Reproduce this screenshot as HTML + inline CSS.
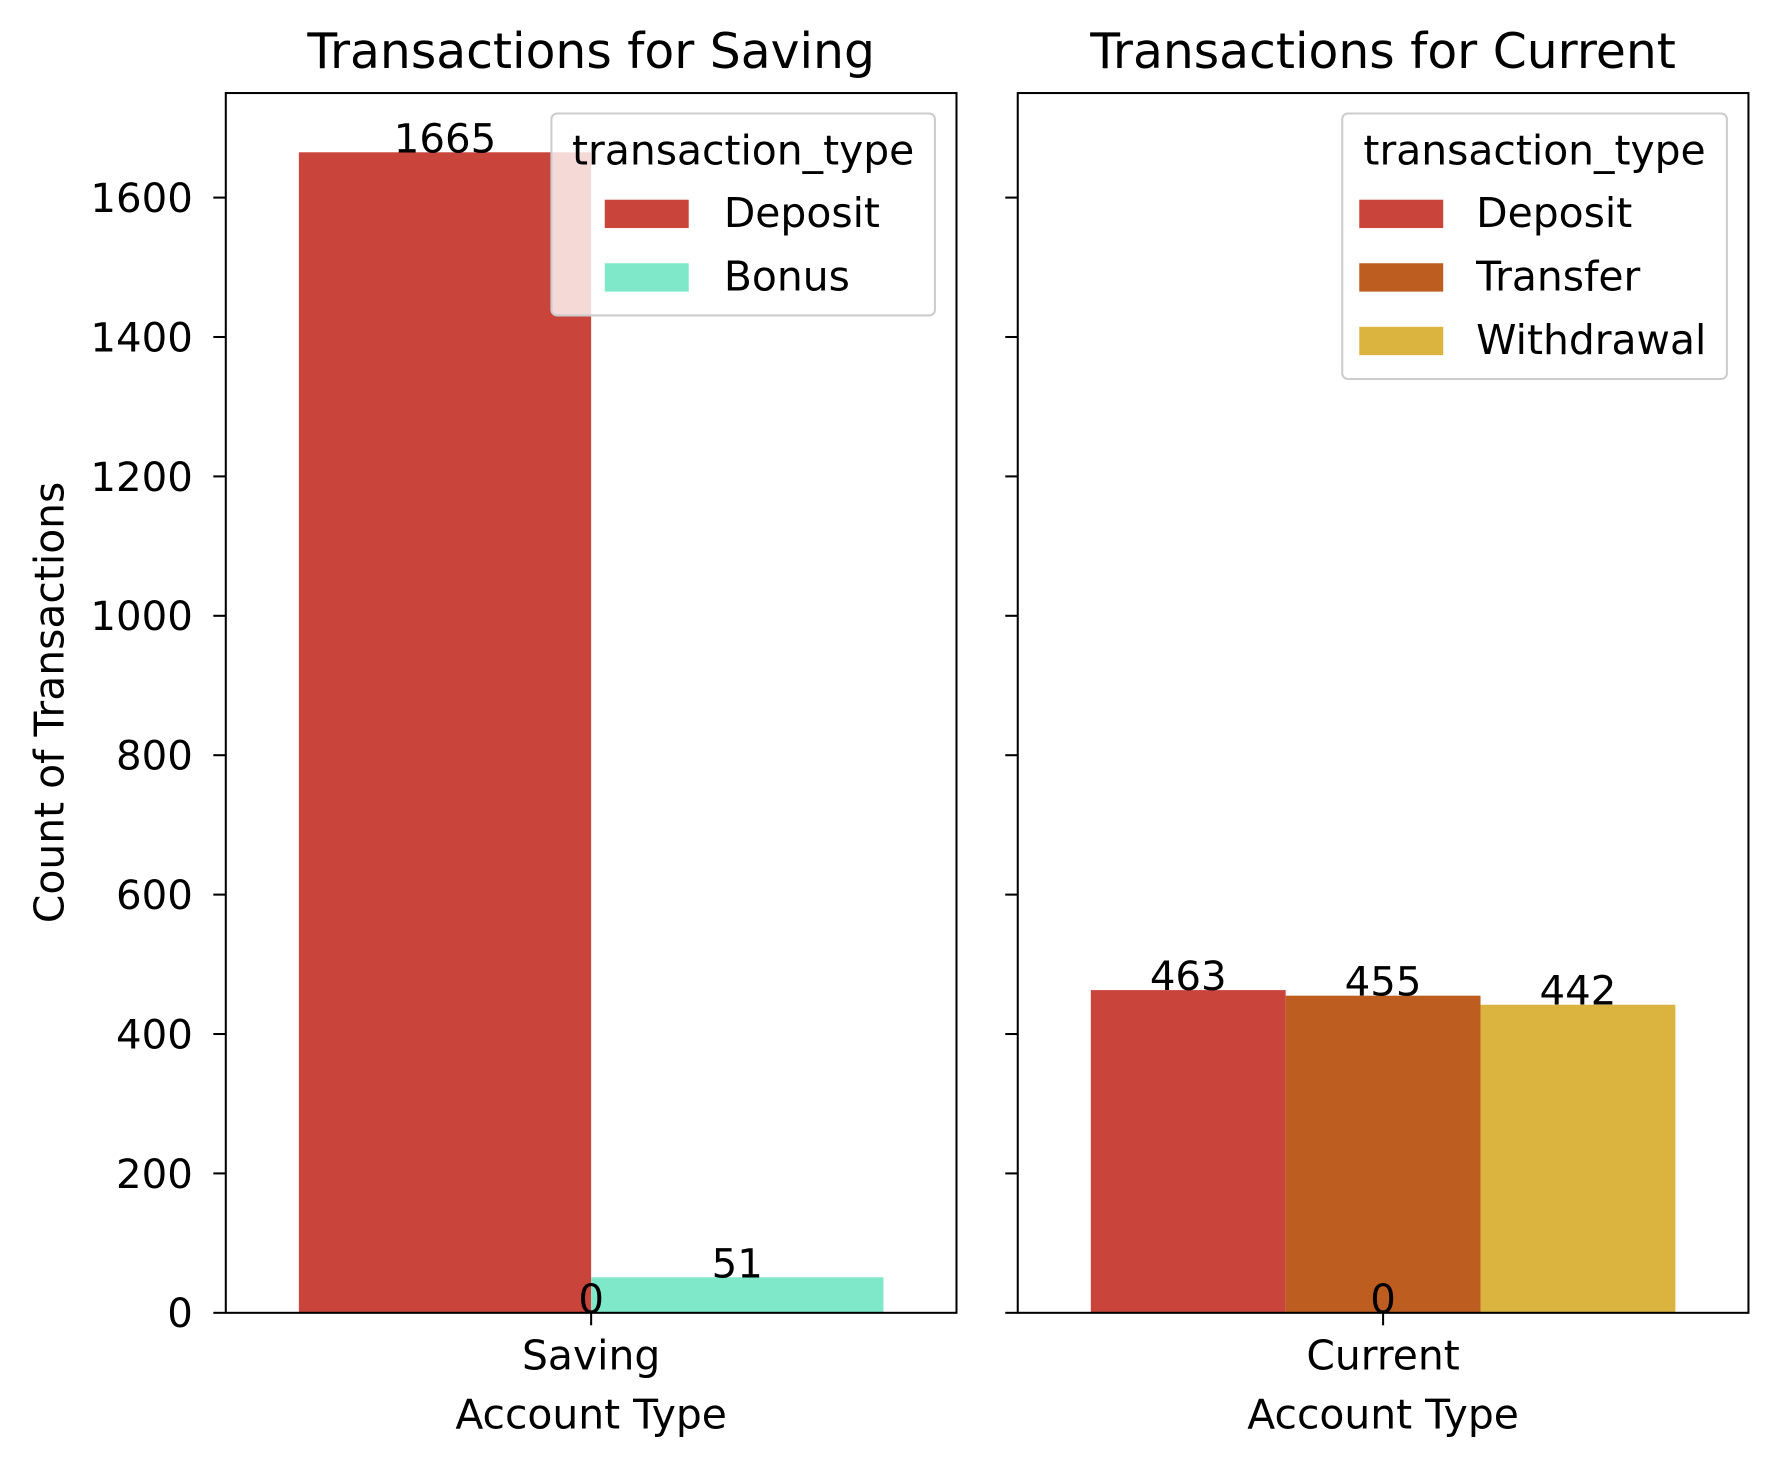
<!DOCTYPE html>
<html><head><meta charset="utf-8"><style>
html,body{margin:0;padding:0;background:#fff;}
svg{display:block;font-family:"DejaVu Sans","Liberation Sans",sans-serif;}
</style></head><body>
<svg id="chart" width="1770" height="1466" viewBox="0 0 1560 1292" preserveAspectRatio="none" xmlns="http://www.w3.org/2000/svg">
<rect width="1560" height="1292" fill="#fff"/>
</svg>
<script>
const yTicks = [0,200,400,600,800,1000,1200,1400,1600];
const savingTypes = ["Deposit","Bonus"];
const savingValues = [1665,51];
const savingColors = ["#c9443a","#7ee8c8"];
const currentTypes = ["Deposit","Transfer","Withdrawal"];
const currentValues = [463,455,442];
const currentColors = ["#c9443a","#bd5d1f","#dab43e"];
const yMax = 1750;

const NS="http://www.w3.org/2000/svg";
const svgEl=document.getElementById('chart');
function mk(tag,attrs,parent){const e=document.createElementNS(NS,tag);for(const k in attrs)e.setAttribute(k,attrs[k]);(parent||svgEl).appendChild(e);return e;}
function txt(s,attrs,parent){const e=mk('text',attrs,parent);e.textContent=s;return e;}

const plotTop=82,plotBottom=1157;
const FS=35.5;
function yScale(v){return plotBottom-(v/yMax)*(plotBottom-plotTop);}

function panel(x0,x1,title,cat,types,values,colors,showY,legendBox,name){
  const g=mk('g',{});
  
  
  const cx=(x0+x1)/2, unit=x1-x0, groupW=0.8*unit, bw=groupW/types.length;
  types.forEach((t,i)=>{
    const bx=cx-groupW/2+i*bw;
    const r=mk('rect',{x:bx,y:yScale(values[i]),width:bw,height:plotBottom-yScale(values[i]),fill:colors[i]},g);
    
    
    const l=txt(String(values[i]),{x:bx+bw/2,y:yScale(values[i]),'font-size':FS,'text-anchor':'middle',fill:'#000'},g);
    
    
  });
  const z=txt('0',{x:cx,y:plotBottom,'font-size':FS,'text-anchor':'middle',fill:'#000'},g);
  
  
  const fr=mk('rect',{x:x0,y:plotTop,width:x1-x0,height:plotBottom-plotTop,fill:'none',stroke:'#000','stroke-width':1.8},g);
  
  
  yTicks.forEach(v=>{
    mk('line',{x1:x0-11,x2:x0,y1:yScale(v),y2:yScale(v),stroke:'#000','stroke-width':1.8},g);
    if(showY){const t=txt(String(v),{x:x0-29,y:yScale(v)+12.7,'font-size':FS,'text-anchor':'end'},g);
      
      }
  });
  mk('line',{x1:cx,x2:cx,y1:plotBottom,y2:plotBottom+11,stroke:'#000','stroke-width':1.8},g);
  const xl=txt(cat,{x:cx,y:1207,'font-size':36,'text-anchor':'middle'},g);
  
  
  const xt=txt('Account Type',{x:cx,y:1259,'font-size':36,'text-anchor':'middle'},g);
  
  
  const tt=txt(title,{x:cx,y:60,'font-size':43,'text-anchor':'middle'},g);
  
  
  const lx=legendBox[0],ly=legendBox[1],lw=legendBox[2],po=legendBox[3],to=legendBox[4];
  const lg=mk('g',{},g);
  
  
  const lh=66+56*types.length;
  mk('rect',{x:lx,y:ly,width:lw,height:lh,rx:5,fill:'#fff','fill-opacity':0.8,stroke:'#ccc','stroke-width':1.8},lg);
  txt('transaction_type',{x:lx+lw/2,y:ly+45,'font-size':36,'text-anchor':'middle'},lg);
  types.forEach((t,i)=>{
    const e=mk('g',{},lg);
    
    
    mk('rect',{x:lx+po,y:ly+76+56*i,width:74,height:25,fill:colors[i]},e);
    txt(t,{x:lx+to,y:ly+100+56*i,'font-size':36},e);
  });
}
panel(199,843,'Transactions for Saving','Saving',savingTypes,savingValues,savingColors,true,[486,100,338,47,152],'saving-panel');
panel(897,1541,'Transactions for Current','Current',currentTypes,currentValues,currentColors,false,[1183,100,339,15,118],'current-panel');
const yt=txt('Count of Transactions',{x:0,y:0,'font-size':36,'text-anchor':'middle',transform:'translate(56,619) rotate(-90)'});


</script>
</body></html>
